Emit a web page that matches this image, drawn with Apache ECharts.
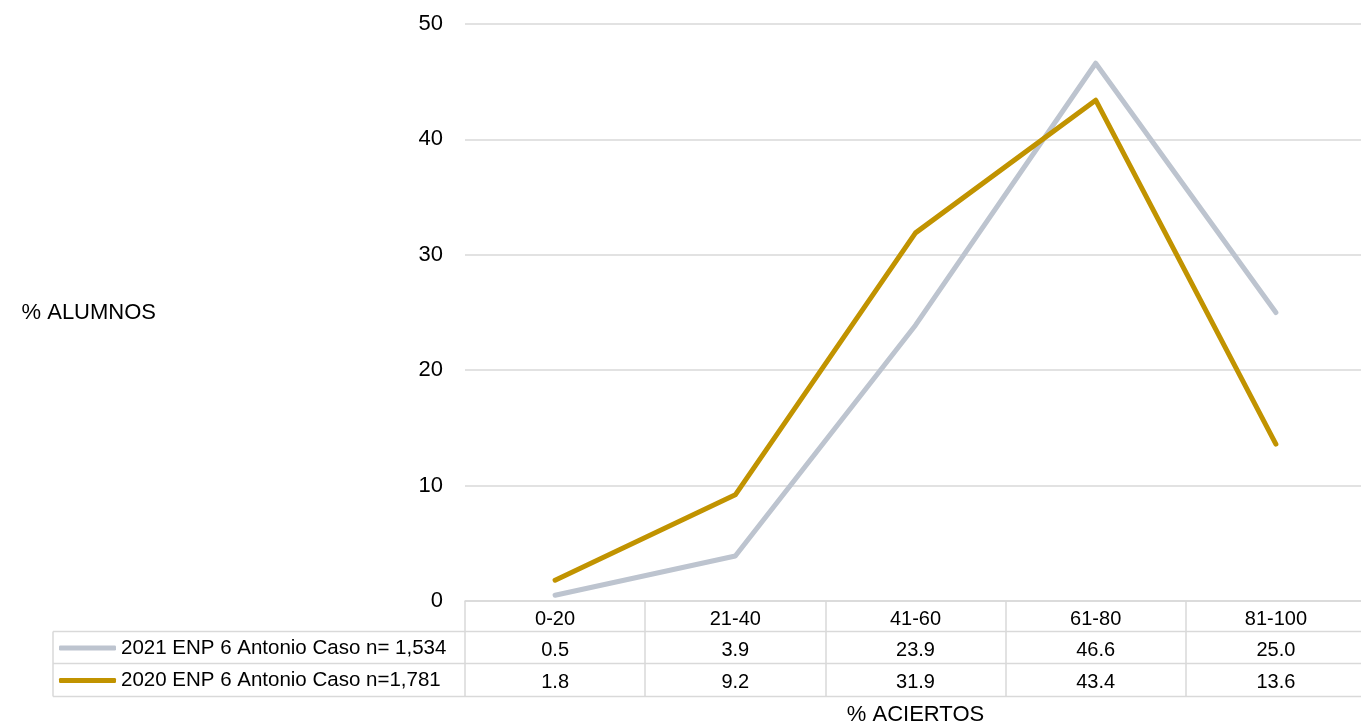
<!DOCTYPE html>
<html>
<head>
<meta charset="utf-8">
<script src="https://cdn.jsdelivr.net/npm/echarts@6/dist/echarts.min.js"></script>
<style>
html,body{margin:0;padding:0;background:#fff;}
#chart{width:1361px;height:727px;}
</style>
</head>
<body>
<div id="chart"></div>
<script>
const categories = ['0-20', '21-40', '41-60', '61-80', '81-100'];
const seriesNames = ['2021 ENP 6 Antonio Caso n= 1,534', '2020 ENP 6 Antonio Caso n=1,781'];
const values2021 = [0.5, 3.9, 23.9, 46.6, 25.0];
const values2020 = [1.8, 9.2, 31.9, 43.4, 13.6];
const yTicks = [0, 10, 20, 30, 40, 50];

const colors = ['#BDC4CF', '#C19300'];
const font = 'Liberation Sans, Arial, sans-serif';
const gridColor = '#D9D9D9';

const chart = echarts.init(document.getElementById('chart'));

const tableLeft = 53, tableRight = 1361;
const rowLines = [631.5, 663.5, 696.5];

const graphics = rowLines.map(y => ({
  type: 'line', silent: true,
  shape: {x1: tableLeft, y1: y, x2: tableRight, y2: y},
  style: {stroke: gridColor, lineWidth: 1.5}
}));
graphics.push({
  type: 'line', silent: true,
  shape: {x1: tableLeft, y1: 631.5, x2: tableLeft, y2: 696.5},
  style: {stroke: gridColor, lineWidth: 1.5}
});

chart.setOption({
  animation: false,
  textStyle: {fontFamily: font},
  grid: {left: 465, right: -5, top: 24, bottom: 126, containLabel: false, outerBoundsMode: 'none'},
  legend: {
    orient: 'vertical',
    left: 54, top: 632,
    padding: 5,
    itemWidth: 57, itemHeight: 5,
    itemGap: 10.5,
    icon: 'roundRect',
    data: seriesNames,
    textStyle: {fontFamily: font, fontSize: 20.5, color: '#000', lineHeight: 22}
  },
  xAxis: {
    type: 'category',
    data: categories,
    boundaryGap: true,
    axisLine: {show: true, lineStyle: {color: gridColor, width: 1.5}},
    axisTick: {show: true, length: 95, lineStyle: {color: gridColor, width: 1.5}},
    axisLabel: {
      margin: 2,
      interval: 0,
      formatter: function (val, idx) {
        return '{h|' + val + '}\n{v|' + values2021[idx].toFixed(1) + '}\n{v|' + values2020[idx].toFixed(1) + '}';
      },
      rich: {
        h: {fontFamily: font, fontSize: 20, color: '#000', lineHeight: 32, height: 32},
        v: {fontFamily: font, fontSize: 20, color: '#000', lineHeight: 31.8, height: 31.8}
      }
    },
    name: '% ACIERTOS',
    nameLocation: 'middle',
    nameGap: 101,
    nameTextStyle: {fontFamily: font, fontSize: 22, color: '#000', verticalAlign: 'top'}
  },
  yAxis: {
    type: 'value',
    min: yTicks[0],
    max: yTicks[yTicks.length - 1],
    interval: 10,
    axisLine: {show: false},
    axisTick: {show: false},
    splitLine: {lineStyle: {color: gridColor, width: 1.5}},
    axisLabel: {margin: 22, fontFamily: font, fontSize: 22, color: '#000', padding: [4, 0, 0, 0]},
    name: '% ALUMNOS',
    nameLocation: 'middle',
    nameRotate: 0,
    nameGap: 309,
    nameTextStyle: {fontFamily: font, fontSize: 22, color: '#000'}
  },
  series: [
    {
      name: seriesNames[0], type: 'line', data: values2021,
      showSymbol: false, symbol: 'none',
      color: colors[0],
      lineStyle: {width: 5, color: colors[0], cap: 'round', join: 'round'}
    },
    {
      name: seriesNames[1], type: 'line', data: values2020,
      showSymbol: false, symbol: 'none',
      color: colors[1],
      lineStyle: {width: 5, color: colors[1], cap: 'round', join: 'round'}
    }
  ],
  graphic: graphics
});
</script>
</body>
</html>
